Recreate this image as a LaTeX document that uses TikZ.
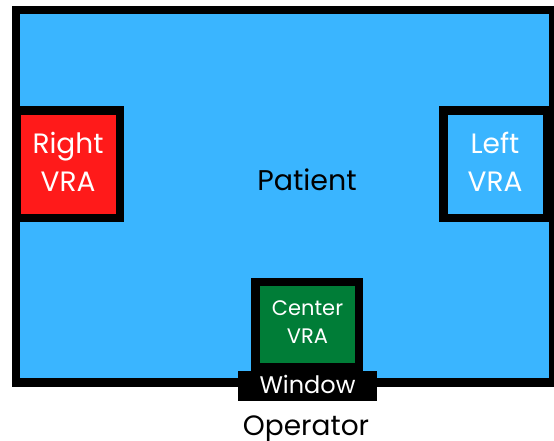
\documentclass[tikz,border=0pt]{standalone}
\usepackage{fontspec}
\setmainfont{Poppins}
\definecolor{roomblue}{HTML}{3AB5FF}
\definecolor{vrared}{HTML}{FF1A1A}
\definecolor{vragreen}{HTML}{007D37}
\tikzset{
  wall/.style={draw=black, line width=8.5pt, inner sep=0pt, outer sep=0pt},
  vrabox/.style={wall, minimum width=103.5pt, minimum height=107.5pt},
  whitetext/.style={text=white, align=center, inner sep=0pt},
}
\begin{document}
\begin{tikzpicture}[x=1pt,y=-1pt]
\useasboundingbox (0,0) rectangle (554,440);
% room
\node[wall, fill=roomblue, minimum width=537pt, minimum height=372.5pt] (room) at (284.5,196.25) {};
% right VRA
\node[vrabox, fill=vrared] (rightvra) at (68,164) {};
\node[whitetext, font=\fontsize{28}{38}\selectfont] (rightlbl) at (68,162) {Right\\VRA};
% left VRA
\node[vrabox, fill=roomblue] (leftvra) at (495,164) {};
\node[whitetext, font=\fontsize{28}{38}\selectfont] (leftlbl) at (495,162) {Left\\VRA};
% center VRA
\node[wall, fill=vragreen, minimum width=103.5pt, minimum height=85pt] (centervra) at (307.25,324.5) {};
\node[whitetext, font=\fontsize{21}{27.7}\selectfont] (centerlbl) at (307.5,322) {Center\\VRA};
% window
\node[fill=black, inner sep=0pt, minimum width=139pt, minimum height=30pt] (window) at (307.5,386) {};
\node[text=white, inner sep=0pt, anchor=base, font=\fontsize{24}{24}\selectfont] (windowlbl) at (307.5,393.3) {Window};
% labels
\node[inner sep=0pt, anchor=base, font=\fontsize{28.5}{28.5}\selectfont] (patient) at (307,190) {Patient};
\node[inner sep=0pt, anchor=base, font=\fontsize{28}{28}\selectfont] (operator) at (306,435.5) {Operator};
\end{tikzpicture}
\end{document}
